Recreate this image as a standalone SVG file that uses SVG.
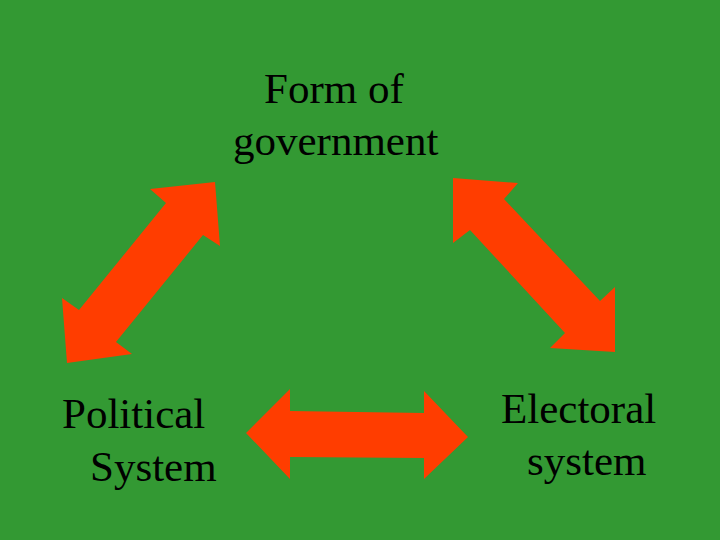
<svg xmlns="http://www.w3.org/2000/svg" width="720" height="540" viewBox="0 0 720 540">
<style>
.lbl{font-family:"Liberation Serif","Times New Roman",serif;font-size:43px;fill:#000}
.arr{fill:#ff3d00}
</style>
<rect x="0" y="0" width="720" height="540" fill="#339933"/>
<g id="connectors">
<polygon class="arr" points="215,182 220,246 203,235 116,342 132,354 67,363 62,298 79,310 166,203 150,189"/>
<polygon class="arr" points="453,178 518,183 504,199 600,301 615,287 615,352 550,348 565,333 470,230 453,243"/>
<polygon class="arr" points="246,433 290,389 290,411 424,413 424,391 468,437 424,479 424,458 290,457 290,479"/>
</g>
<g id="form-of-government">
<text class="lbl" x="264" y="103">Form of</text>
<text class="lbl" x="233" y="155">government</text>
</g>
<g id="political-system">
<text class="lbl" x="62" y="428">Political</text>
<text class="lbl" x="90" y="481">System</text>
</g>
<g id="electoral-system">
<text class="lbl" x="501" y="423">Electoral</text>
<text class="lbl" x="527" y="475">system</text>
</g>
</svg>
